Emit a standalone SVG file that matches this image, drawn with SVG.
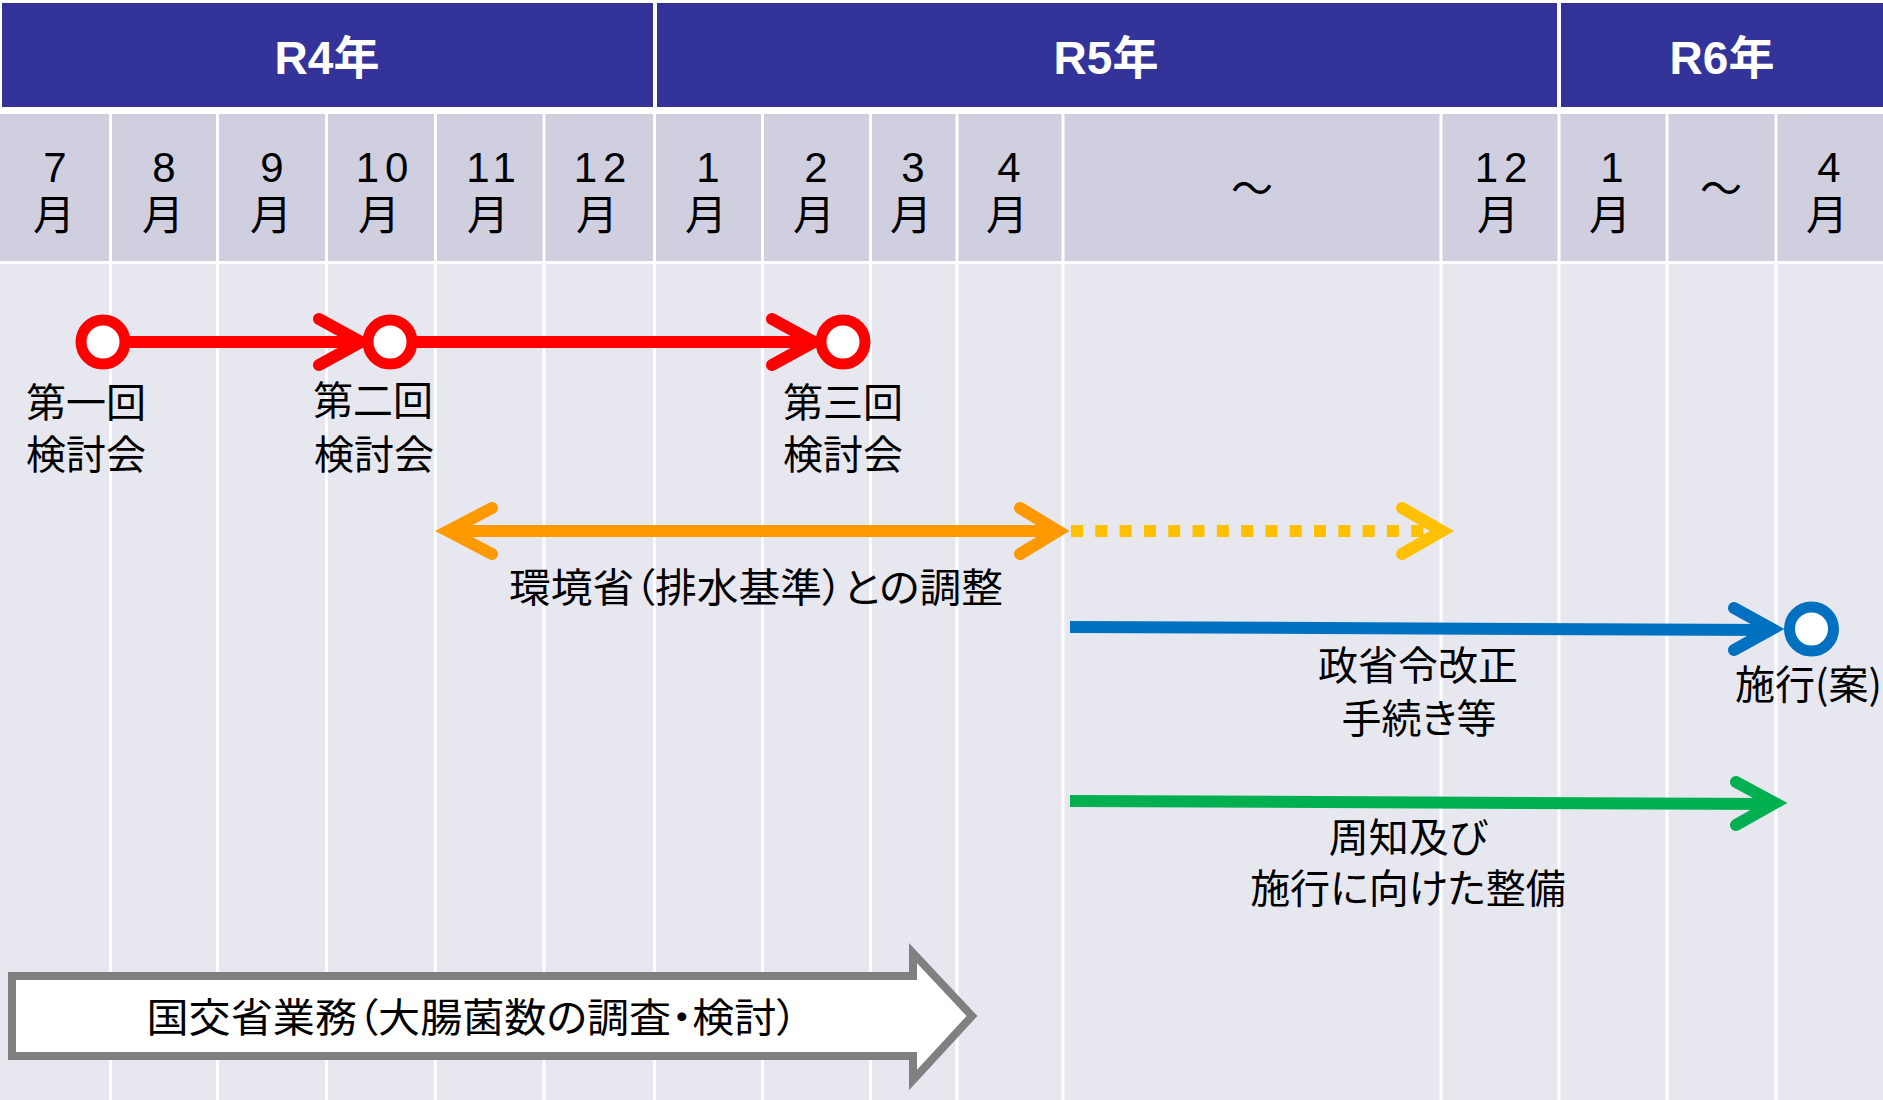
<svg xmlns="http://www.w3.org/2000/svg" width="1883" height="1100" viewBox="0 0 1883 1100">
  <defs>
    <style>
      .year { font-family: "Liberation Sans", "Noto Sans CJK JP", sans-serif; font-weight: bold; font-size: 46px; fill: #FFFFFF; text-anchor: middle; }
      .month { font-family: "Liberation Sans", "Noto Sans CJK JP", sans-serif; font-size: 42px; fill: #000000; text-anchor: middle; letter-spacing: 6px; }
      .tilde { font-family: "Noto Sans CJK JP", sans-serif; font-size: 42px; fill: #000000; text-anchor: middle; }
      .lbl { font-family: "Noto Sans CJK JP", sans-serif; font-size: 40px; fill: #000000; text-anchor: middle; font-feature-settings: "palt"; }
      .lbls { font-family: "Noto Sans CJK JP", sans-serif; font-size: 40px; fill: #000000; text-anchor: start; }
      .grid { stroke: #FFFFFF; stroke-width: 3; }
      .ln { fill: none; stroke-width: 12; stroke-linecap: round; stroke-linejoin: miter; }
      .bar { fill: none; stroke-width: 12; stroke-linecap: butt; }
      .ring { fill: #FFFFFF; stroke-width: 11; }
    </style>
  </defs>

  <!-- background -->
  <rect x="0" y="0" width="1883" height="1100" fill="#FFFFFF"/>
  <rect x="0" y="262" width="1883" height="838" fill="#E7E8EF"/>
  <rect x="0" y="114" width="1883" height="148" fill="#CFCFE0"/>

  <!-- year header -->
  <g id="year-r4">
    <rect x="2" y="3" width="651" height="104" fill="#333399"/>
    <text class="year" x="327" y="74">R4年</text>
  </g>
  <g id="year-r5">
    <rect x="657" y="3" width="900" height="104" fill="#333399"/>
    <text class="year" x="1106" y="74">R5年</text>
  </g>
  <g id="year-r6">
    <rect x="1561" y="3" width="322" height="104" fill="#333399"/>
    <text class="year" x="1722" y="74">R6年</text>
  </g>

  <!-- grid lines -->
  <g id="grid">
    <line class="grid" x1="110.5" y1="114" x2="110.5" y2="1100"/>
    <line class="grid" x1="217.5" y1="114" x2="217.5" y2="1100"/>
    <line class="grid" x1="326.5" y1="114" x2="326.5" y2="1100"/>
    <line class="grid" x1="435.5" y1="114" x2="435.5" y2="1100"/>
    <line class="grid" x1="544" y1="114" x2="544" y2="1100"/>
    <line class="grid" x1="654.5" y1="114" x2="654.5" y2="1100"/>
    <line class="grid" x1="762.5" y1="114" x2="762.5" y2="1100"/>
    <line class="grid" x1="870.5" y1="114" x2="870.5" y2="1100"/>
    <line class="grid" x1="957" y1="114" x2="957" y2="1100"/>
    <line class="grid" x1="1063" y1="114" x2="1063" y2="1100"/>
    <line class="grid" x1="1441" y1="114" x2="1441" y2="1100"/>
    <line class="grid" x1="1559" y1="114" x2="1559" y2="1100"/>
    <line class="grid" x1="1667" y1="114" x2="1667" y2="1100"/>
    <line class="grid" x1="1776" y1="114" x2="1776" y2="1100"/>
    <line class="grid" x1="0" y1="262.5" x2="1883" y2="262.5"/>
  </g>

  <!-- month labels -->
  <g id="months">
    <g id="m-r4-7"><text class="month" x="58" y="182">7</text><text class="month" x="57" y="230">月</text></g>
    <g id="m-r4-8"><text class="month" x="167" y="182">8</text><text class="month" x="166" y="230">月</text></g>
    <g id="m-r4-9"><text class="month" x="275" y="182">9</text><text class="month" x="274" y="230">月</text></g>
    <g id="m-r4-10"><text class="month" x="385" y="182">10</text><text class="month" x="382" y="230">月</text></g>
    <g id="m-r4-11"><text class="month" x="494" y="182">11</text><text class="month" x="491" y="230">月</text></g>
    <g id="m-r4-12"><text class="month" x="603" y="182">12</text><text class="month" x="600" y="230">月</text></g>
    <g id="m-r5-1"><text class="month" x="711" y="182">1</text><text class="month" x="709" y="230">月</text></g>
    <g id="m-r5-2"><text class="month" x="819" y="182">2</text><text class="month" x="817" y="230">月</text></g>
    <g id="m-r5-3"><text class="month" x="916" y="182">3</text><text class="month" x="914" y="230">月</text></g>
    <g id="m-r5-4"><text class="month" x="1012" y="182">4</text><text class="month" x="1010" y="230">月</text></g>
    <g id="m-r5-tilde"><text class="tilde" x="1252" y="204">～</text></g>
    <g id="m-r5-12"><text class="month" x="1504" y="182">12</text><text class="month" x="1501" y="230">月</text></g>
    <g id="m-r6-1"><text class="month" x="1615" y="182">1</text><text class="month" x="1613" y="230">月</text></g>
    <g id="m-r6-tilde"><text class="tilde" x="1721" y="204">～</text></g>
    <g id="m-r6-4"><text class="month" x="1832" y="182">4</text><text class="month" x="1830" y="230">月</text></g>
  </g>

  <!-- connectors -->
  <g id="connectors">
    <!-- red: review meetings -->
    <line class="ln" stroke="#FF0000" x1="103" y1="342" x2="360" y2="342"/>
    <polyline class="ln" stroke="#FF0000" points="319,319 361,342 319,365"/>
    <line class="ln" stroke="#FF0000" x1="390" y1="342" x2="813" y2="342"/>
    <polyline class="ln" stroke="#FF0000" points="772,319 814,342 772,365"/>

    <!-- orange: coordination with MoE -->
    <line class="bar" stroke="#FF9900" x1="447" y1="531" x2="1058" y2="531"/>
    <polyline class="ln" stroke="#FF9900" points="492,508 448,531 492,554"/>
    <polyline class="ln" stroke="#FF9900" points="1020,508 1058,531 1020,554"/>
    <line stroke="#FFC000" stroke-width="12" stroke-dasharray="12 12.3" x1="1071" y1="531" x2="1432" y2="531"/>
    <polyline class="ln" stroke="#FFC000" points="1402,508 1442,531 1402,554"/>

    <!-- blue: ordinance revision -->
    <line class="bar" stroke="#0070C0" x1="1070" y1="627" x2="1770" y2="630"/>
    <polyline class="ln" stroke="#0070C0" points="1734,608 1772,629 1734,650"/>

    <!-- green: publicity -->
    <line class="bar" stroke="#00B050" x1="1070" y1="801" x2="1772" y2="804"/>
    <polyline class="ln" stroke="#00B050" points="1736,782 1775,803 1736,825"/>
  </g>

  <!-- milestones -->
  <g id="meeting-1">
    <circle class="ring" stroke="#FF0000" cx="103" cy="342" r="22"/>
    <text class="lbl" x="86" y="417">第一回</text>
    <text class="lbl" x="86" y="469">検討会</text>
  </g>
  <g id="meeting-2">
    <circle class="ring" stroke="#FF0000" cx="390" cy="342" r="22"/>
    <text class="lbl" x="373" y="415">第二回</text>
    <text class="lbl" x="374" y="469">検討会</text>
  </g>
  <g id="meeting-3">
    <circle class="ring" stroke="#FF0000" cx="843" cy="342" r="22"/>
    <text class="lbl" x="843" y="417">第三回</text>
    <text class="lbl" x="843" y="469">検討会</text>
  </g>

  <g id="moe-coordination">
    <text class="lbl" x="756" y="602" textLength="494" lengthAdjust="spacingAndGlyphs">環境省（排水基準）との調整</text>
  </g>

  <g id="ordinance">
    <text class="lbl" x="1418" y="680">政省令改正</text>
    <text class="lbl" x="1419" y="733">手続き等</text>
  </g>

  <g id="enforcement">
    <circle class="ring" stroke="#0070C0" cx="1811.5" cy="629" r="22"/>
    <text class="lbls" x="1735" y="699">施行(案)</text>
  </g>

  <g id="publicity">
    <text class="lbl" x="1408" y="852">周知及び</text>
    <text class="lbl" x="1408" y="903">施行に向けた整備</text>
  </g>

  <g id="mlit-work">
    <polygon points="12,976 913,976 913,953 972,1016 913,1080 913,1056 12,1056" fill="#FFFFFF" stroke="#808080" stroke-width="8" stroke-linejoin="miter"/>
    <text class="lbl" x="472" y="1032" textLength="651" lengthAdjust="spacingAndGlyphs">国交省業務（大腸菌数の調査・検討）</text>
  </g>
</svg>
